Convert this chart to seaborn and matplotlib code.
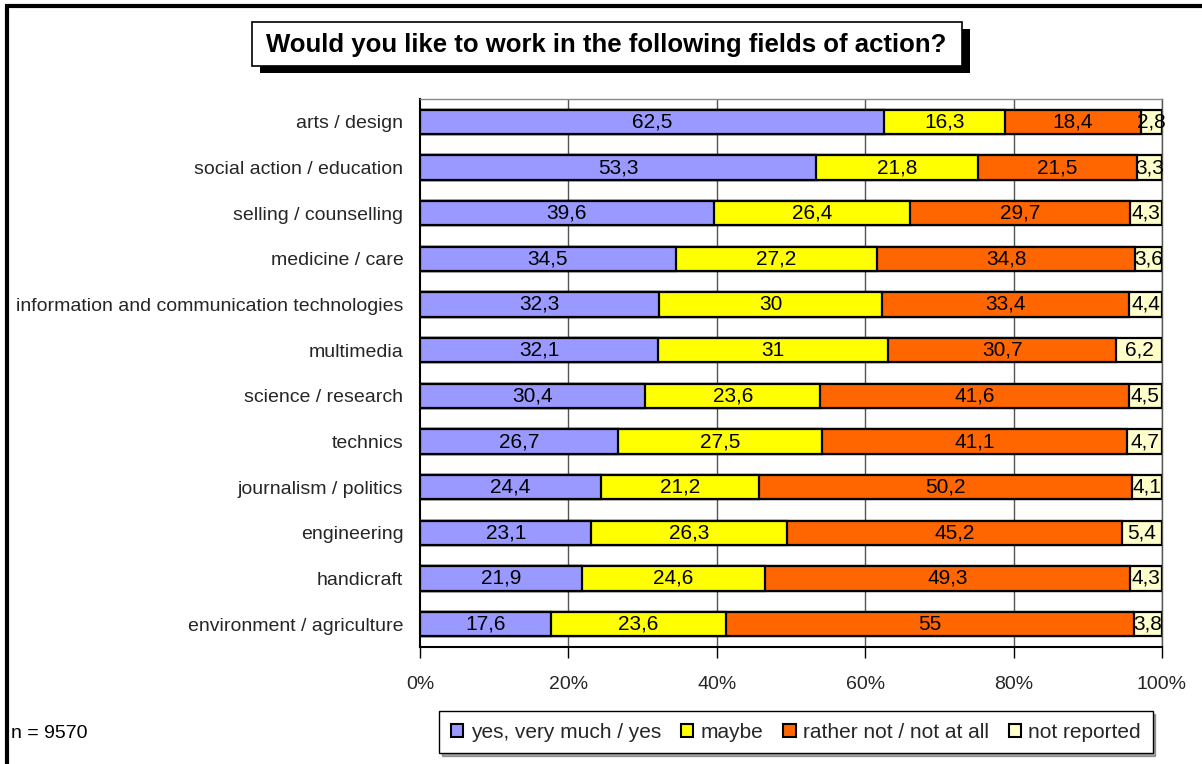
import numpy as np
import pandas as pd
import matplotlib
matplotlib.use("Agg")
import matplotlib.pyplot as plt
from matplotlib.patches import Rectangle, Patch
import seaborn as sns

categories = [
    "arts / design",
    "social action / education",
    "selling / counselling",
    "medicine / care",
    "information and communication technologies",
    "multimedia",
    "science / research",
    "technics",
    "journalism / politics",
    "engineering",
    "handicraft",
    "environment / agriculture",
]
yes_vals = [62.5, 53.3, 39.6, 34.5, 32.3, 32.1, 30.4, 26.7, 24.4, 23.1, 21.9, 17.6]
maybe_vals = [16.3, 21.8, 26.4, 27.2, 30, 31, 23.6, 27.5, 21.2, 26.3, 24.6, 23.6]
not_vals = [18.4, 21.5, 29.7, 34.8, 33.4, 30.7, 41.6, 41.1, 50.2, 45.2, 49.3, 55]
nr_vals = [2.8, 3.3, 4.3, 3.6, 4.4, 6.2, 4.5, 4.7, 4.1, 5.4, 4.3, 3.8]
series_names = ["yes, very much / yes", "maybe", "rather not / not at all", "not reported"]
series_colors = ["#9999FF", "#FFFF00", "#FF6600", "#FFFFCC"]
x_ticks = [0, 20, 40, 60, 80, 100]
x_tick_labels = ["0%", "20%", "40%", "60%", "80%", "100%"]
title_text = "Would you like to work in the following fields of action?"
note_text = "n = 9570"

sns.set_theme(style="white")
plt.rcParams["font.family"] = ["Liberation Sans", "DejaVu Sans"]

raw = np.array([yes_vals, maybe_vals, not_vals, nr_vals], dtype=float)
pct = raw / raw.sum(axis=0) * 100.0
cum = np.cumsum(pct, axis=0)

W, H = 1202, 764
def fx(px):
    return px / W
def fy(py):
    return 1 - py / H

fig = plt.figure(figsize=(12.02, 7.64), dpi=100)
ax = fig.add_axes([fx(420), fy(647), 742 / W, 548 / H])

for k in range(3, -1, -1):
    df = pd.DataFrame({"category": categories, "value": cum[k]})
    sns.barplot(data=df, x="value", y="category", orient="h", color=series_colors[k],
                edgecolor="black", linewidth=1.6, width=0.53, saturation=1,
                ax=ax, zorder=3)

# labels
for i in range(len(categories)):
    for k in range(4):
        left = cum[k][i] - pct[k][i]
        center = left + pct[k][i] / 2
        val = raw[k][i]
        s = (f"{val:g}").replace(".", ",")
        ax.text(center, i, s, ha="center", va="center", fontsize=15, color="black", zorder=5)

ax.set_xlim(0, 100)
ax.set_ylim(11.5, -0.5)
ax.set_xticks(x_ticks)
ax.set_xticklabels(x_tick_labels, fontsize=14)
ax.set_xlabel("")
ax.set_ylabel("")
ax.tick_params(axis="y", length=0, pad=12, labelsize=14)
ax.tick_params(axis="x", direction="out", length=8, width=1, color="black", pad=13)
ax.xaxis.set_ticks_position("bottom")
ax.grid(False)
for xv in x_ticks[1:]:
    ax.axvline(xv, color="#555555", linewidth=1, zorder=1)
ax.spines["left"].set_color("black")
ax.spines["left"].set_linewidth(1.5)
ax.spines["bottom"].set_color("black")
ax.spines["bottom"].set_linewidth(1.5)
ax.spines["top"].set_color("#888888")
ax.spines["top"].set_linewidth(1)
ax.spines["right"].set_color("#555555")
ax.spines["right"].set_linewidth(1)
for sp in ax.spines.values():
    sp.set_visible(True)

# figure border (top and left edges visible)
fig.add_artist(Rectangle((fx(7), fy(900)), fx(1400), 894 / H, transform=fig.transFigure,
                         fill=False, edgecolor="black", linewidth=3, zorder=0))

# title box with shadow
fig.add_artist(Rectangle((fx(260), fy(73)), fx(710), 44 / H, transform=fig.transFigure,
                         facecolor="black", edgecolor="black", linewidth=0, zorder=1))
fig.add_artist(Rectangle((fx(252), fy(66)), fx(710), 44 / H, transform=fig.transFigure,
                         facecolor="white", edgecolor="black", linewidth=1.2, zorder=2))
fig.text(fx(606), fy(45), title_text, ha="center", va="center", fontsize=18.5,
         fontweight="bold", color="black", zorder=3)

fig.text(fx(11), fy(734), note_text, ha="left", va="center", fontsize=14, color="black")

handles = [Patch(facecolor=c, edgecolor="black", linewidth=1.5) for c in series_colors]
leg = fig.legend(handles, series_names, loc="center", bbox_to_anchor=(fx(796), fy(732)),
                 ncol=4, fontsize=15, frameon=True, fancybox=False, shadow=True,
                 handlelength=0.6, handleheight=0.6, handletextpad=0.35, columnspacing=0.95,
                 borderpad=0.55, edgecolor="black")
leg.get_frame().set_linewidth(1)

fig.savefig("out.png", dpi=100)
